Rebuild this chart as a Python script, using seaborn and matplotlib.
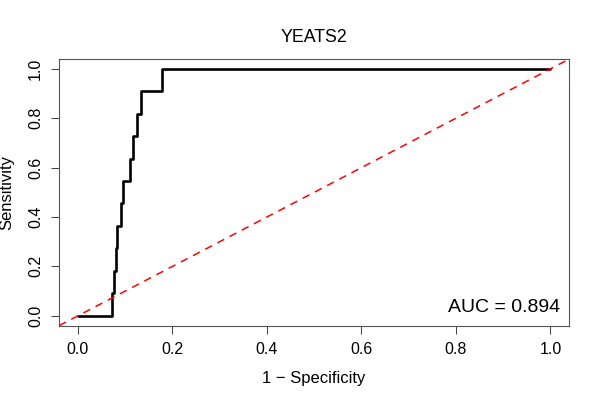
import matplotlib
matplotlib.use("Agg")
import matplotlib.pyplot as plt
import seaborn as sns
import pandas as pd

# ---- data ----
title = "YEATS2"
x_label = "1 \u2212 Specificity"
y_label = "Sensitivity"
auc_label = "AUC = 0.894"
fpr = [0.000, 0.072, 0.076, 0.080, 0.083, 0.091, 0.095, 0.110, 0.116, 0.126, 0.133, 0.177, 1.000]
tpr = [0.000, 0.091, 0.182, 0.273, 0.364, 0.455, 0.545, 0.636, 0.727, 0.818, 0.909, 1.000, 1.000]
x_ticks = [0.0, 0.2, 0.4, 0.6, 0.8, 1.0]
y_ticks = [0.0, 0.2, 0.4, 0.6, 0.8, 1.0]
tick_labels = ["0.0", "0.2", "0.4", "0.6", "0.8", "1.0"]

sns.set_style("ticks")
plt.rcParams["font.family"] = ["Liberation Sans", "DejaVu Sans"]
plt.rcParams["text.color"] = "black"
plt.rcParams["axes.labelcolor"] = "black"

fig = plt.figure(figsize=(6, 4), dpi=100)
ax = fig.add_axes([59 / 600, 74.3 / 400, 510.3 / 600, 266.7 / 400])

df = pd.DataFrame({"fpr": fpr, "tpr": tpr})
sns.lineplot(data=df, x="fpr", y="tpr", ax=ax, color="black", lw=1.9,
             drawstyle="steps-post", estimator=None, sort=False)
ax.axline((0, 0), slope=1, color="red", lw=1.1, dashes=(5, 4))

ax.set_xlim(-0.04, 1.04)
ax.set_ylim(-0.04, 1.04)
ax.set_xticks(x_ticks)
ax.set_xticklabels(tick_labels, fontsize=11.5)
ax.set_yticks(y_ticks)
ax.set_yticklabels(tick_labels, fontsize=11.5, rotation=90, va="center")
ax.tick_params(axis="both", direction="out", length=5.5, width=0.75,
               color="#444444", pad=6, labelcolor="black")
for s in ax.spines.values():
    s.set_visible(True)
    s.set_color("#555555")
    s.set_linewidth(0.8)

ax.set_xlabel(x_label, fontsize=12)
ax.set_ylabel(y_label, fontsize=12)
ax.xaxis.set_label_coords(0.5, (325.7 - 378) / 266.7)
ax.xaxis.label.set_va("center")
ax.yaxis.set_label_coords((7 - 59) / 510.3, 0.5)
ax.yaxis.label.set_va("center")

ax.text(1.0197, 0.017, auc_label, ha="right", va="baseline", fontsize=14, color="black")
fig.text(314 / 600, 1 - 37 / 400, title, ha="center", va="center", fontsize=12.8, color="black")

fig.savefig("out.png", dpi=100)
